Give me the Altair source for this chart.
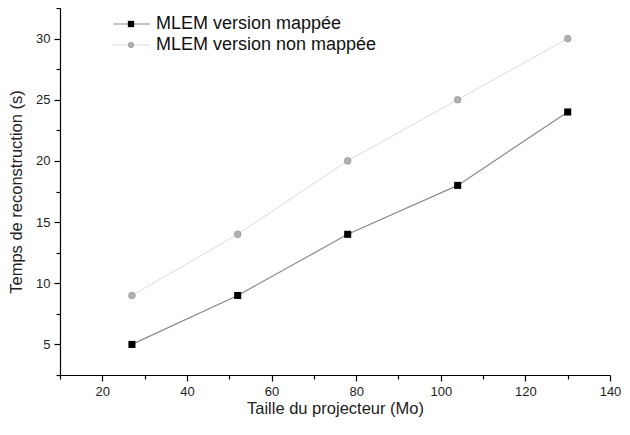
import altair as alt
import pandas as pd

taille = [27, 52, 78, 104, 130]
mappee = [5, 9, 14, 18, 24]
non_mappee = [9, 14, 20, 25, 30]
series_names = ["MLEM version mappée", "MLEM version non mappée"]

x_major = [20, 40, 60, 80, 100, 120, 140]
x_minor = [10, 30, 50, 70, 90, 110, 130]
y_major = [5, 10, 15, 20, 25, 30]
y_minor = [2.5, 7.5, 12.5, 17.5, 22.5, 27.5, 32.5]

df_m = pd.DataFrame({"x": taille, "y": mappee})
df_n = pd.DataFrame({"x": taille, "y": non_mappee})

FONT = "Liberation Sans"
xs = alt.Scale(domain=[10, 140], nice=False, zero=False)
ys = alt.Scale(domain=[2.5, 32.5], nice=False, zero=False)

common = dict(tickSize=6, tickColor="black", domainColor="black",
              labelFontSize=13, labelFont=FONT, labelColor="#222", titleFont=FONT,
              titleFontSize=16.5, titleFontWeight="normal", titleColor="#222",
              grid=False, labelPadding=4, domainWidth=1.2, tickWidth=1.2,
              labelFlush=False, labelOverlap=False)
ax_x = alt.Axis(values=x_major, orient="bottom", titlePadding=2, **common)
ax_y = alt.Axis(values=y_major, orient="left", titlePadding=11, **common)

line_n = alt.Chart(df_n).mark_line(color="#dcdcdc", strokeWidth=1).encode(
    x=alt.X("x:Q", scale=xs, axis=ax_x, title="Taille du projecteur (Mo)"),
    y=alt.Y("y:Q", scale=ys, axis=ax_y, title="Temps de reconstruction (s)"),
)
pts_n = alt.Chart(df_n).mark_point(shape="circle", filled=True, size=45, color="#b0b0b0",
                                   stroke="#999999", strokeWidth=0.8, opacity=1).encode(
    x=alt.X("x:Q", scale=xs, axis=None), y=alt.Y("y:Q", scale=ys, axis=None))
line_m = alt.Chart(df_m).mark_line(color="#8a8a8a", strokeWidth=1.2).encode(
    x=alt.X("x:Q", scale=xs, axis=None), y=alt.Y("y:Q", scale=ys, axis=None))
pts_m = alt.Chart(df_m).mark_point(shape="square", filled=True, size=50, color="black",
                                   opacity=1).encode(
    x=alt.X("x:Q", scale=xs, axis=None), y=alt.Y("y:Q", scale=ys, axis=None))

# minor ticks
minor_x = alt.Chart(pd.DataFrame({"x": x_minor})).mark_point(opacity=0).encode(
    x=alt.X("x:Q", scale=xs, axis=alt.Axis(values=x_minor, orient="bottom", tickSize=4,
                                           labels=False, title=None, domain=False,
                                           tickColor="black", tickWidth=1.2, grid=False)))
minor_y = alt.Chart(pd.DataFrame({"y": y_minor})).mark_point(opacity=0).encode(
    y=alt.Y("y:Q", scale=ys, axis=alt.Axis(values=y_minor, orient="left", tickSize=4,
                                           labels=False, title=None, domain=False,
                                           tickColor="black", tickWidth=1.2, grid=False)))

# legend
leg = pd.DataFrame({"name": series_names})
l1a = alt.Chart(leg.iloc[[0]]).mark_rule(color="#8a8a8a", strokeWidth=1.2).encode(
    x=alt.value(53), x2=alt.value(90), y=alt.value(16))
l1b = alt.Chart(leg.iloc[[0]]).mark_point(shape="square", filled=True, size=40, color="black",
                                          opacity=1).encode(x=alt.value(71), y=alt.value(16))
l1c = alt.Chart(leg.iloc[[0]]).mark_text(align="left", baseline="middle", fontSize=18, font=FONT,
                                         color="#111").encode(
    x=alt.value(96), y=alt.value(16), text="name:N")
l2a = alt.Chart(leg.iloc[[1]]).mark_rule(color="#dcdcdc", strokeWidth=1).encode(
    x=alt.value(53), x2=alt.value(90), y=alt.value(37))
l2b = alt.Chart(leg.iloc[[1]]).mark_point(shape="circle", filled=True, size=30, color="#b0b0b0",
                                          stroke="#999999", strokeWidth=0.8, opacity=1).encode(
    x=alt.value(71), y=alt.value(37))
l2c = alt.Chart(leg.iloc[[1]]).mark_text(align="left", baseline="middle", fontSize=18, font=FONT,
                                         color="#111").encode(
    x=alt.value(96), y=alt.value(37), text="name:N")

chart = alt.layer(line_n, minor_x, minor_y, line_m, pts_n, pts_m,
                  l1a, l1b, l1c, l2a, l2b, l2c).resolve_axis(
    x="independent", y="independent"
).properties(
    width=550, height=367,
    autosize=alt.AutoSizeParams(type="none"),
    padding={"left": 52, "top": 0, "right": 11, "bottom": 45},
    background="white",
).configure_view(stroke=None)

chart.save("out.html", embed_options={"renderer": "svg", "actions": False})
